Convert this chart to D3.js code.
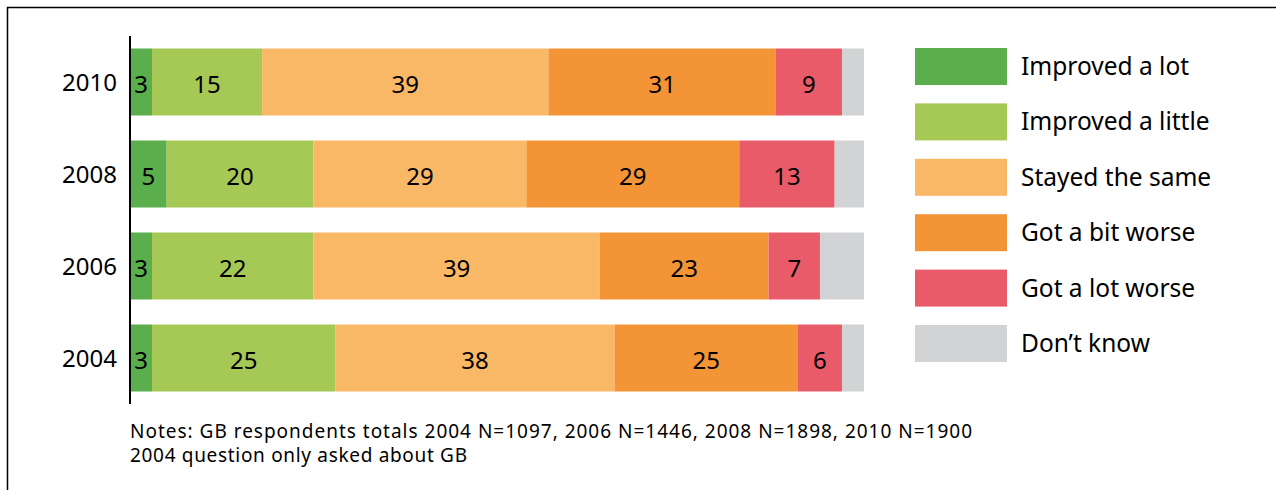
<!DOCTYPE html>
<html><head><meta charset="utf-8">
<script src="https://cdn.jsdelivr.net/npm/d3@7/dist/d3.min.js"></script>
<style>body{margin:0;background:#fff;} svg{display:block;font-family:"Noto Sans",sans-serif;}</style>
</head><body>
<svg id="c" width="1276" height="490"></svg>
<script>
const years = ["2010","2008","2006","2004"];
const categories = ["Improved a lot","Improved a little","Stayed the same","Got a bit worse","Got a lot worse","Don\u2019t know"];
const improvedALot    = [3, 5, 3, 3];
const improvedALittle = [15, 20, 22, 25];
const stayedTheSame   = [39, 29, 39, 38];
const gotABitWorse    = [31, 29, 23, 25];
const gotALotWorse    = [9, 13, 7, 6];
const dontKnow        = [3, 4, 6, 3];
const notes = ["Notes: GB respondents totals 2004 N=1097, 2006 N=1446, 2008 N=1898, 2010 N=1900",
               "2004 question only asked about GB"];
const colors = ["#5aae4b","#a6c855","#f9b865","#f39537","#ea5b69","#d2d3d5"];
const series = [improvedALot, improvedALittle, stayedTheSame, gotABitWorse, gotALotWorse, dontKnow];

const table = years.map((y,i)=>{const o={year:y}; categories.forEach((c,k)=>o[c]=series[k][i]); return o;});
const stacked = d3.stack().keys(categories)(table);

const svg = d3.select("#c");
// frame
svg.append("path").attr("d","M7.5,490 V7.5 H1276").attr("fill","none").attr("stroke","#000").attr("stroke-width",1.5);

const x = d3.scaleLinear().domain([0,100]).range([130,864]);
const y = d3.scaleBand().domain(years).range([36,404]).paddingInner(0.272).paddingOuter(0.136);

const g = svg.append("g");
stacked.forEach((s,k)=>{
  const gs = g.append("g");
  gs.selectAll("rect").data(s).join("rect")
    .attr("x",d=>x(d[0])).attr("width",d=>x(d[1])-x(d[0]))
    .attr("y",d=>y(d.data.year)).attr("height",y.bandwidth())
    .attr("fill",colors[k]);
  if(k<5){
    gs.selectAll("text").data(s).join("text")
      .attr("x",d=>(x(d[0])+x(d[1]))/2).attr("y",d=>y(d.data.year)+y.bandwidth()/2+1)
      .attr("text-anchor","middle").attr("dominant-baseline","central")
      .attr("font-size",24).attr("fill","#000").text(d=>d[1]-d[0]);
  }
});

// y axis
const ax = svg.append("g").attr("transform","translate(130,0)")
  .call(d3.axisLeft(y).tickSize(0).tickPadding(13));
ax.select(".domain").attr("stroke","#000").attr("stroke-width",2).attr("d","M0,36V404");
ax.selectAll("text").attr("font-size",24).attr("fill","#000").attr("font-family","Noto Sans, sans-serif").attr("dy","0.36em");

// legend
const lg = svg.append("g");
categories.forEach((c,k)=>{
  const yy = 48 + k*55.4;
  lg.append("rect").attr("x",915).attr("y",yy).attr("width",92).attr("height",37).attr("fill",colors[k]);
  lg.append("text").attr("x",1021).attr("y",yy+17.5).attr("dominant-baseline","central")
    .attr("font-size",24.5).attr("fill","#000").text(c);
});

// notes
const noteLens = [842, 337];
notes.forEach((n,i)=>{
  svg.append("text").attr("x",130).attr("y",438+i*24).attr("font-size",19).attr("fill","#000")
    .attr("textLength",noteLens[i]).attr("lengthAdjust","spacing").text(n);
});
</script>
</body></html>
